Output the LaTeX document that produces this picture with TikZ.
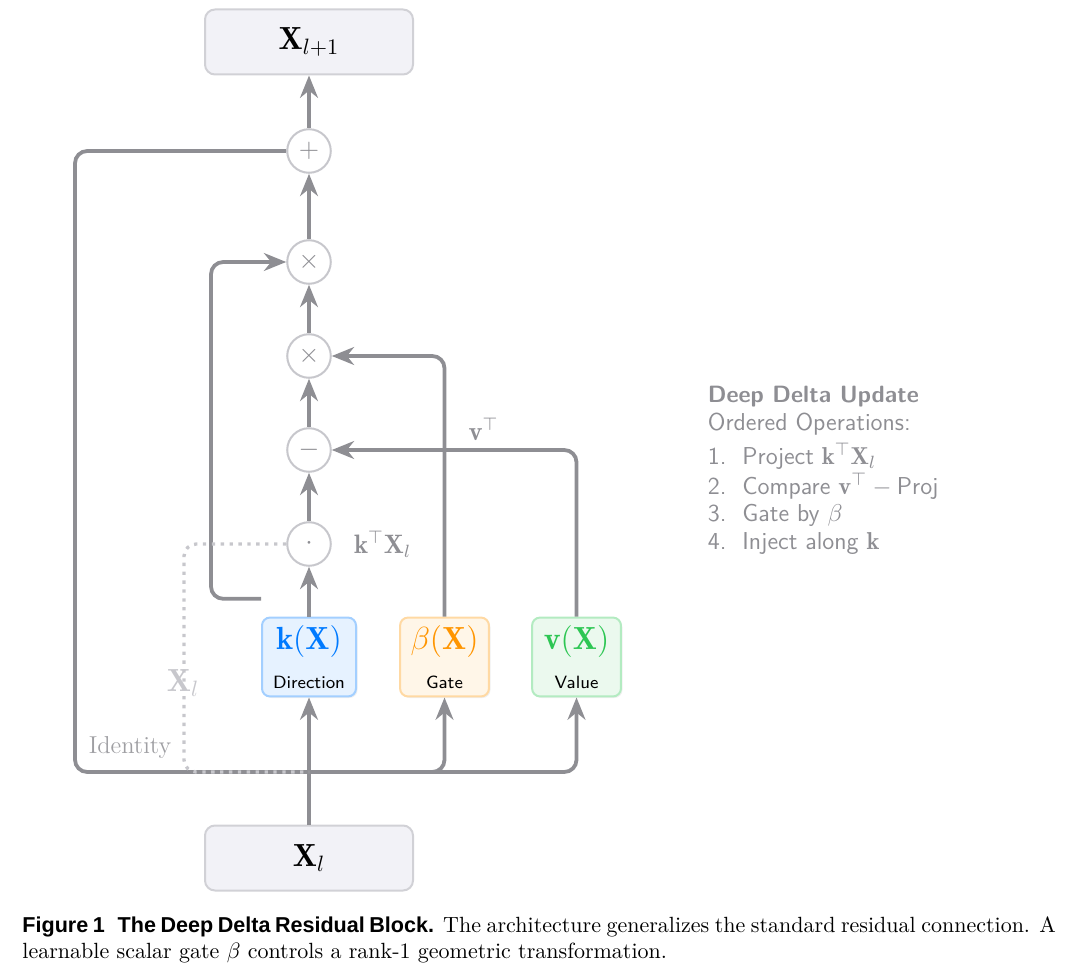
\documentclass[tikz,border=0pt]{standalone}
\usepackage{amsmath}
\usepackage{fontspec}
\newfontfamily\capfont{Liberation Sans}
\usetikzlibrary{positioning,arrows.meta,shadows}

\definecolor{edgegray}{HTML}{8E8E93}
\definecolor{ringgray}{HTML}{C7C7CC}
\definecolor{tensorfill}{HTML}{F2F2F7}
\definecolor{tensordraw}{HTML}{D1D1D6}
\definecolor{kblue}{HTML}{007AFF}
\definecolor{kfill}{HTML}{E6F2FF}
\definecolor{kdraw}{HTML}{A3CFFF}
\definecolor{borange}{HTML}{FF9500}
\definecolor{bfill}{HTML}{FFF6E8}
\definecolor{bdraw}{HTML}{FFD9A3}
\definecolor{vgreen}{HTML}{2DC653}
\definecolor{vfill}{HTML}{EBF9EE}
\definecolor{vdraw}{HTML}{B3EBC1}

\tikzstyle{tensor} = [rectangle, draw=tensordraw, fill=tensorfill, line width=0.9pt,
    rounded corners=4.5pt, minimum width=93.6pt, minimum height=29.25pt, font=\Large]
\tikzstyle{branch} = [rectangle, line width=0.9pt, rounded corners=3.6pt, align=center,
    minimum width=40pt, minimum height=35.5pt, inner sep=2pt,
    font=\fontsize{14.4}{16}\selectfont,
    drop shadow={opacity=0.12, shadow xshift=0.7pt, shadow yshift=-0.7pt}]
\tikzstyle{op} = [circle, draw=ringgray, fill=white, line width=0.9pt,
    minimum size=19.6pt, inner sep=0pt, text=edgegray, font=\large]
\tikzstyle{arrow} = [draw=edgegray, line width=1.7pt, rounded corners=5.5pt,
    -{Stealth[length=10pt,width=8pt,inset=3.2pt]}]
\tikzstyle{wire} = [draw=edgegray, line width=1.7pt, rounded corners=5.5pt]
\tikzstyle{tap} = [draw=ringgray, line width=1.5pt, rounded corners=5.5pt,
    dash pattern=on 1.5pt off 2.5pt]

\newcommand{\branchtag}[1]{\\[1.5pt]{\fontsize{8}{9}\sffamily\color{black}#1}}

\begin{document}
\begin{tikzpicture}[x=0.45pt, y=-0.45pt]

    \useasboundingbox (0,0) rectangle (1080,973);

    % Place nodes
    \node [tensor] (xl) at (309,858) {$\mathbf{X}_l$};
    \node [branch, above of=xl, node distance=90.45pt, minimum width=42.3pt,
        draw=kdraw, fill=kfill, text=kblue] (kbox)
        {$\mathbf{k}(\mathbf{X})$\branchtag{Direction}};
    \node [branch, right of=kbox, node distance=60.98pt,
        draw=bdraw, fill=bfill, text=borange] (beta)
        {$\beta(\mathbf{X})$\branchtag{Gate}};
    \node [branch, right of=beta, node distance=59.4pt,
        draw=vdraw, fill=vfill, text=vgreen] (value)
        {$\mathbf{v}(\mathbf{X})$\branchtag{Value}};

    \node [op, above of=kbox, node distance=50.85pt] (dot) {$\cdot$};
    \node [op, above of=dot, node distance=42.3pt] (minus) {$-$};
    \node [op, above of=minus, node distance=42.3pt] (scale) {$\times$};
    \node [op, above of=scale, node distance=42.3pt] (inject) {$\times$};
    \node [op, above of=inject, node distance=49.95pt] (plus) {$+$};
    \node [tensor, above of=plus, node distance=49.05pt] (xnext) {$\mathbf{X}_{l+1}$};

    \coordinate (split) at (309,772);
    \coordinate (idcorner) at (75,772);
    \coordinate (idtap) at (184,772);
    \coordinate (kout) at ([yshift=8pt]kbox.north west);
    \coordinate (kbend) at ([xshift=-22.5pt]kout);

    % Labels
    \node [right=6.5pt of dot, text=edgegray, font=\large] (projlabel)
        {$\mathbf{k}^\top\mathbf{X}_l$};
    \node [text=ringgray, font=\Large] (taplabel) at (183,683) {$\mathbf{X}_l$};
    \node [text=edgegray!85, font=\fontsize{11}{13}\selectfont] (idlabel)
        at (130,748) {Identity};

    % Draw edges
    \path [arrow] (xl.north) -- (kbox.south);
    \path [arrow] (kbox.north) -- (dot.south);
    \path [arrow] (dot) -- (minus);
    \path [arrow] (minus) -- (scale);
    \path [arrow] (scale) -- (inject);
    \path [arrow] (inject) -- (plus);
    \path [arrow] (plus) -- (xnext);

    \path [wire] (split) -- (idcorner) |- (plus.west);
    \path [arrow] (split) -| (beta.south);
    \path [arrow] (split) -| (value.south);

    \path [arrow] (kout) -- (kbend) |- (inject.west);
    \path [arrow] (beta.north) |- (scale.east);
    \path [arrow] (value.north) |- node [pos=0.69, above, text=edgegray, font=\large]
        {$\mathbf{v}^\top$} (minus.east);

    \path [tap] (dot.west) -| (idtap) -- (split);

    % Side notes
    \node [anchor=north west, align=left, text=edgegray,
        font=\fontsize{11}{12.8}\sffamily] (notes) at (700,378)
        {{\fontsize{10.6}{12.8}\selectfont\bfseries Deep Delta Update}\\
         Ordered Operations:\\[2.5pt]
         1.~~Project $\mathbf{k}^\top\mathbf{X}_l$\\[0.5pt]
         2.~~Compare $\mathbf{v}^\top - \text{Proj}$\\[-0.5pt]
         3.~~Gate by $\beta$\\
         4.~~Inject along $\mathbf{k}$};

    % Caption
    \node [anchor=north west, text width=465pt, align=justify, inner sep=0pt,
        font=\fontsize{9.9}{11.7}\selectfont] (caption) at (22,916)
        {{\capfont\bfseries\fontsize{9.7}{11.7}\selectfont Figure 1\hspace{0.6em}The Deep Delta Residual Block.}
         The architecture generalizes the standard residual connection. A\linebreak
         learnable scalar gate $\beta$ controls a rank-1 geometric transformation.};

\end{tikzpicture}
\end{document}
